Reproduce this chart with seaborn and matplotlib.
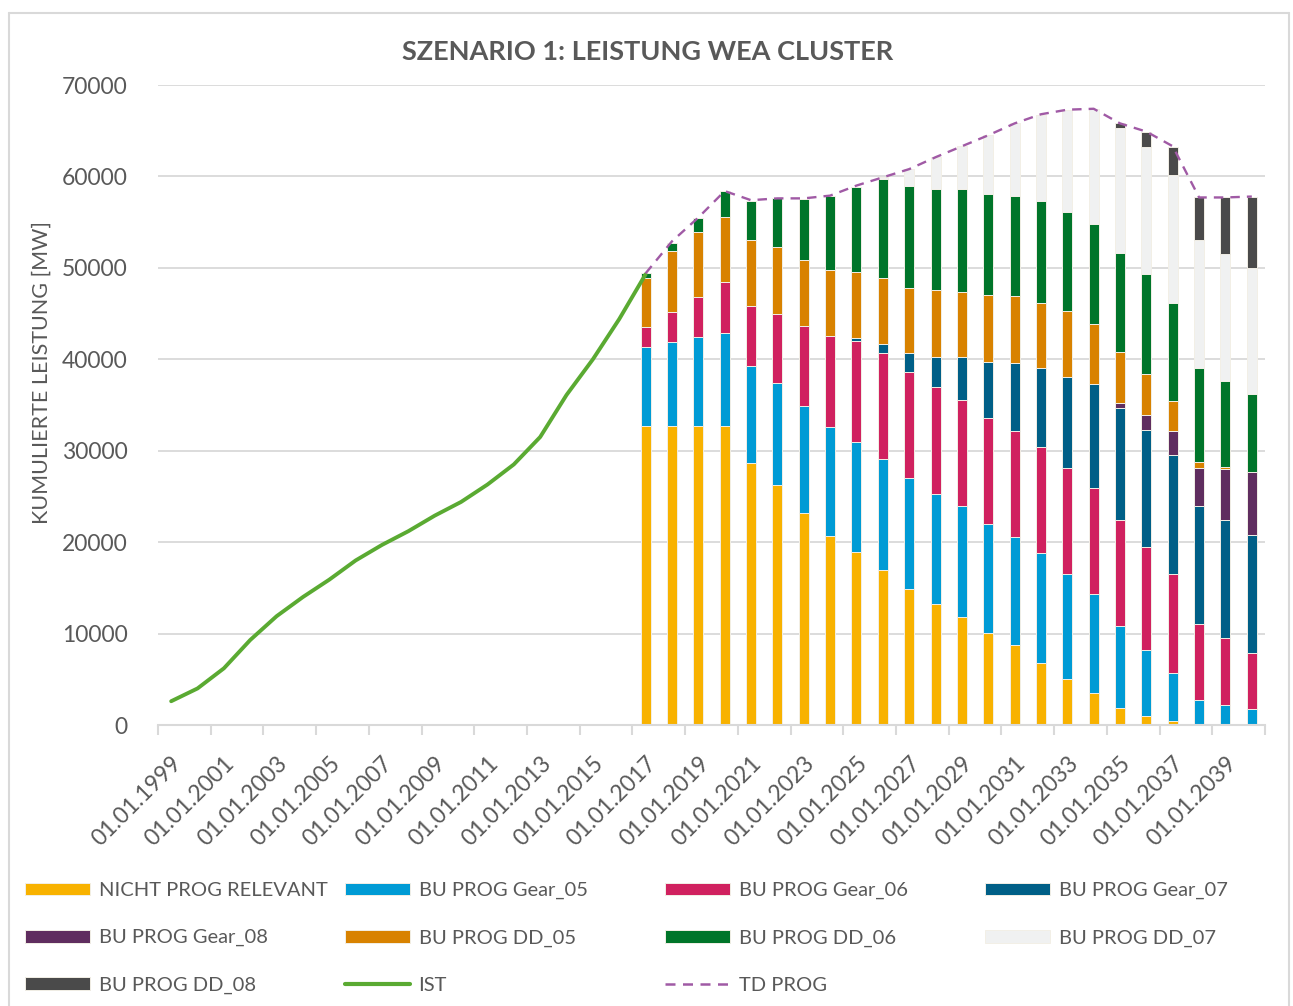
import numpy as np
from matplotlib import pyplot as plt
from matplotlib.patches import Patch
from matplotlib.lines import Line2D
import seaborn as sns

# IST (1999..2017)
ist_years = list(range(1999, 2018))
ist = [2600, 4000, 6200, 9300, 11900, 14000, 15900, 18000, 19700, 21200,
       22900, 24400, 26300, 28500, 31500, 36100, 40000, 44400, 49300]

# prognosis years (2017..2040)
prog_years = list(range(2017, 2041))
nicht_prog = [32700, 32700, 32700, 32700, 28700, 26300, 23200, 20700, 18900, 17000, 14900, 13250,
              11800, 10100, 8700, 6800, 5000, 3500, 1900, 1000, 450, 0, 0, 0]
gear_05 = [8600, 9200, 9700, 10200, 10600, 11100, 11700, 11900, 12000, 12100, 12100, 12000,
           12100, 11900, 11900, 12000, 11500, 10800, 8900, 7200, 5250, 2700, 2200, 1700]
gear_06 = [2200, 3300, 4400, 5500, 6500, 7600, 8700, 10000, 11100, 11600, 11600, 11750,
           11600, 11600, 11600, 11600, 11600, 11600, 11600, 11300, 10800, 8400, 7300, 6200]
gear_07 = [0, 0, 0, 0, 0, 0, 0, 0, 300, 1000, 2100, 3300,
           4800, 6100, 7400, 8700, 10000, 11400, 12300, 12800, 13000, 12900, 12900, 12900]
gear_08 = [0, 0, 0, 0, 0, 0, 0, 0, 0, 0, 0, 0,
           0, 0, 0, 0, 0, 0, 500, 1600, 2700, 4100, 5600, 6900]
dd_05 = [5400, 6600, 7100, 7200, 7300, 7300, 7300, 7200, 7200, 7200, 7100, 7250,
         7100, 7300, 7300, 7100, 7200, 6600, 5600, 4500, 3200, 700, 200, 0]
dd_06 = [500, 900, 1600, 2800, 4200, 5300, 6600, 8100, 9300, 10800, 11200, 11050,
         11200, 11100, 11000, 11100, 10800, 10900, 10800, 10900, 10800, 10300, 9400, 8500]
dd_07 = [0, 0, 0, 0, 0, 0, 0, 0, 0, 200, 1800, 3500,
         4700, 6400, 7900, 9400, 11200, 12600, 13700, 13900, 14000, 13900, 13900, 13800]
dd_08 = [0, 0, 0, 0, 0, 0, 0, 0, 0, 0, 0, 0,
         0, 0, 0, 0, 0, 0, 500, 1700, 3000, 4700, 6200, 7800]
td_prog = [49400, 52900, 55500, 58400, 57400, 57600, 57600, 57900, 59000, 59900, 60800, 62100,
           63300, 64500, 65800, 66800, 67300, 67400, 65800, 64900, 63300, 57700, 57700, 57800]

series = [
    ("NICHT PROG RELEVANT", nicht_prog, "#F8B200"),
    ("BU PROG Gear_05", gear_05, "#009BD5"),
    ("BU PROG Gear_06", gear_06, "#D0215F"),
    ("BU PROG Gear_07", gear_07, "#005F87"),
    ("BU PROG Gear_08", gear_08, "#5F2D5F"),
    ("BU PROG DD_05", dd_05, "#D88200"),
    ("BU PROG DD_06", dd_06, "#00752A"),
    ("BU PROG DD_07", dd_07, "#F0F1F1"),
    ("BU PROG DD_08", dd_08, "#4A4A4A"),
]
ist_color = "#5AAA32"
td_color = "#A05AA5"
text_color = "#595959"
grid_color = "#D9D9D9"

sns.set_theme(style="white")
plt.rcParams['font.family'] = ['Lato', 'DejaVu Sans']

fig = plt.figure(figsize=(12.93, 10.06), dpi=100)
ax = fig.add_axes([158 / 1293, 1 - 725 / 1006, 1107 / 1293, 640 / 1006])

first_year = 1999
px = np.array(prog_years) - first_year
bottom = np.zeros(len(prog_years))
for name, vals, col in series:
    vals = np.array(vals, dtype=float)
    ax.bar(px, vals, bottom=bottom, width=0.38, color=col,
           edgecolor="#F2EFE6", linewidth=0.7, zorder=2)
    bottom += vals

sns.lineplot(x=np.array(ist_years) - first_year, y=ist, ax=ax, color=ist_color,
             lw=2.8, zorder=4)
sns.lineplot(x=px, y=td_prog, ax=ax, color=td_color, lw=1.7,
             linestyle=(0, (4, 3)), zorder=5)

ax.set_xlim(-0.5, 41.5)
ax.set_ylim(0, 70000)
ax.set_yticks(range(0, 70001, 10000))
ax.yaxis.grid(True, color=grid_color, lw=1.3, zorder=0)
ax.set_axisbelow(True)
for s in ["left", "right", "top"]:
    ax.spines[s].set_visible(False)
ax.spines["bottom"].set_color(grid_color)
ax.spines["bottom"].set_linewidth(1.5)

label_years = list(range(1999, 2041, 2))
ax.set_xticks(np.arange(-0.5, 42, 2))
ax.set_xticklabels([])
ax.set_xticks(np.array(label_years) - first_year, minor=True)
ax.set_xticklabels(["01.01.%d" % y for y in label_years], minor=True,
                   rotation=45, ha="right", va="top", rotation_mode="anchor")
ax.tick_params(axis="x", which="major", length=7, width=1.5, color=grid_color, bottom=True)
ax.tick_params(axis="x", which="minor", length=0, pad=20, labelsize=16.5, labelcolor=text_color)
ax.tick_params(axis="y", length=0, pad=22, labelsize=16.5, labelcolor=text_color)

ax.set_ylabel("KUMULIERTE LEISTUNG [MW]", fontsize=15.5, color=text_color)
ax.yaxis.set_label_coords(-0.096, 0.55)

fig.text(648 / 1293, 1 - 52 / 1006, "SZENARIO 1: LEISTUNG WEA CLUSTER", ha="center",
         va="center", fontsize=19.5, fontweight="bold", color=text_color)

# legend, 4 equal columns like the Excel layout
handles = {name: Patch(facecolor=col, edgecolor="#F2EFE6", lw=0.7) for name, _, col in series}
handles["IST"] = Line2D([], [], color=ist_color, lw=3, solid_capstyle="round")
handles["TD PROG"] = Line2D([], [], color=td_color, lw=1.8, linestyle=(0, (4, 3)))
columns = [
    ["NICHT PROG RELEVANT", "BU PROG Gear_08", "BU PROG DD_08"],
    ["BU PROG Gear_05", "BU PROG DD_05", "IST"],
    ["BU PROG Gear_06", "BU PROG DD_06", "TD PROG"],
    ["BU PROG Gear_07", "BU PROG DD_07"],
]
col_x = [25, 345, 665, 985]
for cx, names in zip(col_x, columns):
    leg = fig.legend([handles[n] for n in names], names, loc="upper left",
                     bbox_to_anchor=(cx / 1293, 1 - 882 / 1006), frameon=False,
                     fontsize=14.5, handlelength=3.25, handleheight=0.6, handletextpad=0.4,
                     labelspacing=1.5, borderpad=0, borderaxespad=0)
    for t in leg.get_texts():
        t.set_color(text_color)

# chart area border
for xs, ys in [([9, 9], [1006, 13]), ([9, 1289], [13, 13]), ([1289, 1289], [13, 1006])]:
    fig.add_artist(Line2D([x / 1293 for x in xs], [1 - y / 1006 for y in ys],
                          color=grid_color, lw=1.5))

fig.savefig("out.png", dpi=100)
